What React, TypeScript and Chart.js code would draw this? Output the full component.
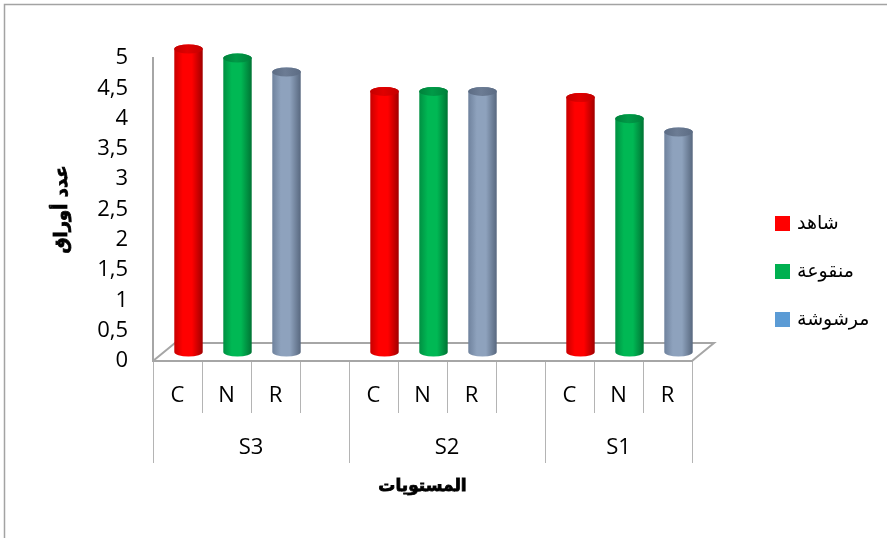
import React, { useEffect, useRef } from 'react';
import { Chart, registerables } from 'chart.js';

Chart.register(...registerables);

// ---- data ----
const groupLabels = ['S3', 'S2', 'S1'];
const categoryLabels = ['C', 'N', 'R', '', 'C', 'N', 'R', '', 'C', 'N', 'R'];
const seriesNames = ['شاهد', 'منقوعة', 'مرشوشة'];
// values per group, in order S3, S2, S1
const controlValues = [5.0, 4.3, 4.2];
const soakedValues = [4.85, 4.3, 3.85];
const sprayedValues = [4.62, 4.3, 3.63];
const yAxisTitle = 'عدد أوراق';
const xAxisTitle = 'المستويات';

// ---- styles ----
const LATIN = "'Open Sans', 'DejaVu Sans', sans-serif";
const ARABIC = "'DejaVu Sans', sans-serif";
const DX = 22;
const DY = 18;
const seriesStyles = [
  { legend: '#ff0000', edgeL: '#c80000', mid: '#ff0000', edgeR: '#a00000', top: '#c40000', topHi: '#e00000' },
  { legend: '#00b050', edgeL: '#009042', mid: '#00b854', edgeR: '#007434', top: '#00813b', topHi: '#009a47' },
  { legend: '#5b9bd5', edgeL: '#6f829d', mid: '#8ea2bd', edgeR: '#58687f', top: '#5c6c84', topHi: '#6c7c94' },
];

const seriesValues = [controlValues, soakedValues, sprayedValues];

function buildData(s: number) {
  return categoryLabels.map((_, i) => {
    const g = Math.floor(i / 4);
    const t = i % 4;
    return t === s ? seriesValues[s][g] : null;
  });
}

function drawCylinder(ctx: CanvasRenderingContext2D, cx: number, top: number, bottom: number, w: number, st: any) {
  const rx = w / 2;
  const ry = 4.5;
  const l = cx - rx;
  const r = cx + rx;
  const g = ctx.createLinearGradient(l, 0, r, 0);
  g.addColorStop(0, st.edgeL);
  g.addColorStop(0.3, st.mid);
  g.addColorStop(0.62, st.mid);
  g.addColorStop(1, st.edgeR);
  ctx.fillStyle = g;
  ctx.beginPath();
  ctx.moveTo(l, top);
  ctx.lineTo(l, bottom);
  ctx.ellipse(cx, bottom, rx, ry, 0, Math.PI, 0, true);
  ctx.lineTo(r, top);
  ctx.ellipse(cx, top, rx, ry, 0, 0, Math.PI, true);
  ctx.closePath();
  ctx.fill();
  const tg = ctx.createLinearGradient(l, 0, r, 0);
  tg.addColorStop(0, st.top);
  tg.addColorStop(0.45, st.topHi);
  tg.addColorStop(1, st.top);
  ctx.fillStyle = tg;
  ctx.beginPath();
  ctx.ellipse(cx, top, rx, ry, 0, 0, Math.PI * 2);
  ctx.fill();
}

function boldText(ctx: CanvasRenderingContext2D, text: string, x: number, y: number) {
  ctx.fillText(text, x, y);
  ctx.strokeText(text, x, y);
}

const chart3dPlugin = {
  id: 'chart3d',
  beforeDatasetsDraw(chart: any) {
    const { ctx, chartArea: a } = chart;
    ctx.save();
    ctx.strokeStyle = '#a6a6a6';
    ctx.lineWidth = 2;
    ctx.beginPath();
    ctx.moveTo(a.left, a.bottom);
    ctx.lineTo(a.left + DX, a.bottom - DY);
    ctx.lineTo(a.right + DX, a.bottom - DY);
    ctx.lineTo(a.right, a.bottom);
    ctx.stroke();
    chart.data.datasets.forEach((ds: any, di: number) => {
      const meta = chart.getDatasetMeta(di);
      meta.data.forEach((el: any, i: number) => {
        if (ds.data[i] == null) return;
        const p = el.getProps(['x', 'y', 'base', 'width'], true);
        drawCylinder(ctx, p.x + DX / 2, p.y - DY / 2, p.base - DY / 2, p.width, seriesStyles[di]);
      });
    });
    ctx.restore();
    return false;
  },
  afterDraw(chart: any) {
    const { ctx, chartArea: a } = chart;
    const xs = chart.scales.x;
    const n = categoryLabels.length;
    const w = (xs.right - xs.left) / n;
    const y0 = a.bottom + 1;
    ctx.save();
    // outer frame
    ctx.strokeStyle = '#a3a3a3';
    ctx.lineWidth = 1.5;
    ctx.strokeRect(4.5, 4.5, 1200, 1200);
    // category separators
    ctx.strokeStyle = '#b4b4b4';
    ctx.lineWidth = 1;
    for (let i = 0; i <= n; i++) {
      const x = Math.round(xs.left + i * w) + 0.5;
      const isGroup = i % 4 === 0 || i === n;
      ctx.beginPath();
      ctx.moveTo(x, y0);
      ctx.lineTo(x, isGroup ? 463 : 413);
      ctx.stroke();
    }
    // group labels
    ctx.fillStyle = '#000';
    ctx.font = `22px ${LATIN}`;
    ctx.textAlign = 'center';
    ctx.textBaseline = 'middle';
    groupLabels.forEach((gl, g) => {
      const s = g * 4;
      const e = Math.min(g * 4 + 4, n);
      ctx.fillText(gl, xs.left + ((s + e) / 2) * w, 448);
    });
    // axis titles (bold Arabic)
    ctx.strokeStyle = '#000';
    ctx.lineWidth = 0.8;
    ctx.font = `bold 17px ${ARABIC}`;
    boldText(ctx, xAxisTitle, (a.left + a.right) / 2, 487);
    ctx.save();
    ctx.translate(62, (a.top + a.bottom) / 2);
    ctx.rotate(-Math.PI / 2);
    ctx.font = `bold 18px ${ARABIC}`;
    boldText(ctx, yAxisTitle, 0, 0);
    ctx.restore();
    // legend
    ctx.textAlign = 'left';
    ctx.textBaseline = 'alphabetic';
    ctx.font = `19px ${ARABIC}`;
    chart.data.datasets.forEach((ds: any, di: number) => {
      const yy = 216 + di * 48;
      ctx.fillStyle = seriesStyles[di].legend;
      ctx.fillRect(775, yy, 15, 15);
      ctx.fillStyle = '#000';
      ctx.fillText(ds.label, 797, yy + 13);
    });
    ctx.restore();
  },
};

export default function App() {
  const ref = useRef<HTMLCanvasElement>(null);
  useEffect(() => {
    const chart = new Chart(ref.current as HTMLCanvasElement, {
      type: 'bar',
      data: {
        labels: categoryLabels,
        datasets: seriesNames.map((name, s) => ({
          label: name,
          data: buildData(s),
          backgroundColor: seriesStyles[s].legend,
          grouped: false,
          barPercentage: 0.58,
          categoryPercentage: 1,
        })),
      },
      options: {
        responsive: false,
        maintainAspectRatio: false,
        animation: false,
        layout: { padding: { left: 8, top: 58, right: 195, bottom: 30 } },
        plugins: { legend: { display: false }, tooltip: { enabled: false } },
        scales: {
          x: {
            type: 'category',
            offset: true,
            ticks: { color: '#000', font: { size: 22, family: LATIN }, padding: 22, maxRotation: 0, autoSkip: false },
            grid: { display: false, drawTicks: false, offset: true },
            border: { display: true, color: '#a6a6a6', width: 2 },
            title: { display: false, text: xAxisTitle },
            afterFit: (s: any) => { s.height = 147; },
          },
          y: {
            min: 0,
            max: 5,
            ticks: {
              stepSize: 0.5,
              color: '#000',
              font: { size: 22, family: LATIN },
              padding: 25,
              callback: (v: any) => String(v).replace('.', ','),
            },
            grid: { display: false, drawTicks: false },
            border: { display: true, color: '#a6a6a6', width: 2 },
            title: { display: false, text: yAxisTitle },
            afterFit: (s: any) => { s.width = 145; },
          },
        },
      } as any,
      plugins: [chart3dPlugin],
    });
    return () => chart.destroy();
  }, []);
  return (
    <div style={{ position: 'fixed', left: 0, top: 0, width: 887, height: 538, background: '#fff' }}>
      <canvas ref={ref} width={887} height={538} style={{ display: 'block' }} />
    </div>
  );
}
